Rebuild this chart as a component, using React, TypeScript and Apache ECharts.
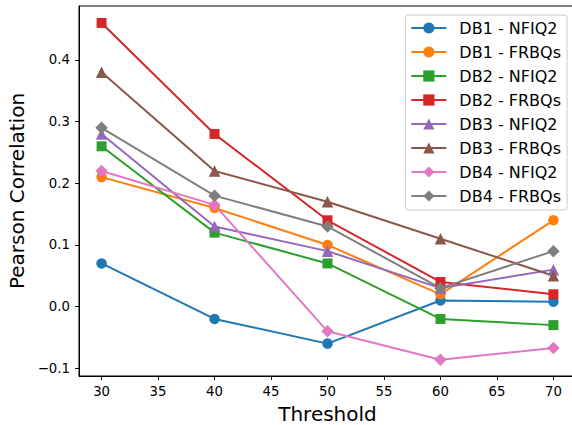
import React, { useEffect, useRef } from "react";
import * as echarts from "echarts";

const thresholds = [30, 40, 50, 60, 70];
const xTickValues = [30, 35, 40, 45, 50, 55, 60, 65, 70];
const yTickValues = [-0.1, 0, 0.1, 0.2, 0.3, 0.4];

const seriesNames = [
  "DB1 - NFIQ2",
  "DB1 - FRBQs",
  "DB2 - NFIQ2",
  "DB2 - FRBQs",
  "DB3 - NFIQ2",
  "DB3 - FRBQs",
  "DB4 - NFIQ2",
  "DB4 - FRBQs",
];

const db1Nfiq2 = [0.07, -0.02, -0.06, 0.01, 0.008];
const db1Frbqs = [0.21, 0.16, 0.1, 0.02, 0.14];
const db2Nfiq2 = [0.26, 0.12, 0.07, -0.02, -0.03];
const db2Frbqs = [0.46, 0.28, 0.14, 0.04, 0.02];
const db3Nfiq2 = [0.28, 0.13, 0.09, 0.03, 0.06];
const db3Frbqs = [0.38, 0.22, 0.17, 0.11, 0.05];
const db4Nfiq2 = [0.22, 0.165, -0.04, -0.086, -0.067];
const db4Frbqs = [0.29, 0.18, 0.13, 0.03, 0.09];

const seriesValues = [db1Nfiq2, db1Frbqs, db2Nfiq2, db2Frbqs, db3Nfiq2, db3Frbqs, db4Nfiq2, db4Frbqs];
const colors = ["#1f77b4", "#ff7f0e", "#2ca02c", "#d62728", "#9467bd", "#8c564b", "#e377c2", "#7f7f7f"];
const symbols = ["circle", "circle", "rect", "rect", "triangle", "triangle", "diamond", "diamond"];
const symbolSizes = [10.5, 10.5, 10, 10, 11.5, 11.5, 12.5, 12.5];

const FONT = "DejaVu Sans";

export default function App() {
  const ref = useRef<HTMLDivElement>(null);
  useEffect(() => {
    if (!ref.current) return;
    const chart = echarts.init(ref.current, null, { renderer: "svg" });
    const fmtY = (v: number) => {
      const s = Math.abs(v).toFixed(1);
      return v < -1e-9 ? "\u2212" + s : s;
    };
    chart.setOption({
      animation: false,
      backgroundColor: "#fff",
      textStyle: { fontFamily: FONT },
      grid: {
        left: 79,
        top: 6,
        right: -4,
        bottom: 49,
        containLabel: false,
        outerBoundsMode: "none",
        show: true,
        borderColor: "#000",
        borderWidth: 1,
        backgroundColor: "transparent",
      },
      legend: {
        orient: "vertical",
        right: 5,
        top: 15,
        itemWidth: 35,
        itemHeight: 14,
        itemGap: 8,
        padding: [5, 6, 6, 5],
        borderColor: "#cccccc",
        borderWidth: 1,
        borderRadius: 3,
        backgroundColor: "rgba(255,255,255,0.8)",
        textStyle: { fontFamily: FONT, fontSize: 16, color: "#000", padding: [0, 0, 0, 8] },
        data: seriesNames,
      },
      xAxis: {
        type: "value",
        min: 28,
        max: 72,
        name: "Threshold",
        nameLocation: "middle",
        nameGap: 28,
        nameTextStyle: { fontFamily: FONT, fontSize: 20, color: "#000" },
        axisLine: { show: true, onZero: false, lineStyle: { color: "#000", width: 1 } },
        axisTick: { show: true, length: 4, lineStyle: { color: "#000" }, customValues: xTickValues },
        axisLabel: { fontFamily: FONT, fontSize: 13.3, color: "#000", margin: 9, customValues: xTickValues },
        splitLine: { show: false },
      },
      yAxis: {
        type: "value",
        min: -0.1125,
        max: 0.4875,
        name: "Pearson Correlation",
        nameLocation: "middle",
        nameGap: 47,
        nameTextStyle: { fontFamily: FONT, fontSize: 20, color: "#000" },
        axisLine: { show: true, onZero: false, lineStyle: { color: "#000", width: 1 } },
        axisTick: { show: true, length: 4, lineStyle: { color: "#000" }, customValues: yTickValues },
        axisLabel: {
          fontFamily: FONT,
          fontSize: 13.3,
          color: "#000",
          margin: 9,
          customValues: yTickValues,
          formatter: (v: number) => fmtY(v),
        },
        splitLine: { show: false },
      },
      series: seriesNames.map((name, k) => ({
        name,
        type: "line",
        data: thresholds.map((x, i) => [x, seriesValues[k][i]]),
        symbol: symbols[k],
        symbolSize: symbolSizes[k],
        showSymbol: true,
        lineStyle: { color: colors[k], width: 2 },
        itemStyle: { color: colors[k], borderWidth: 0 },
        emphasis: { disabled: true },
      })),
    });
    return () => chart.dispose();
  }, []);
  return (
    <div
      ref={ref}
      style={{ position: "fixed", left: 0, top: 0, width: 572, height: 425 }}
    />
  );
}
